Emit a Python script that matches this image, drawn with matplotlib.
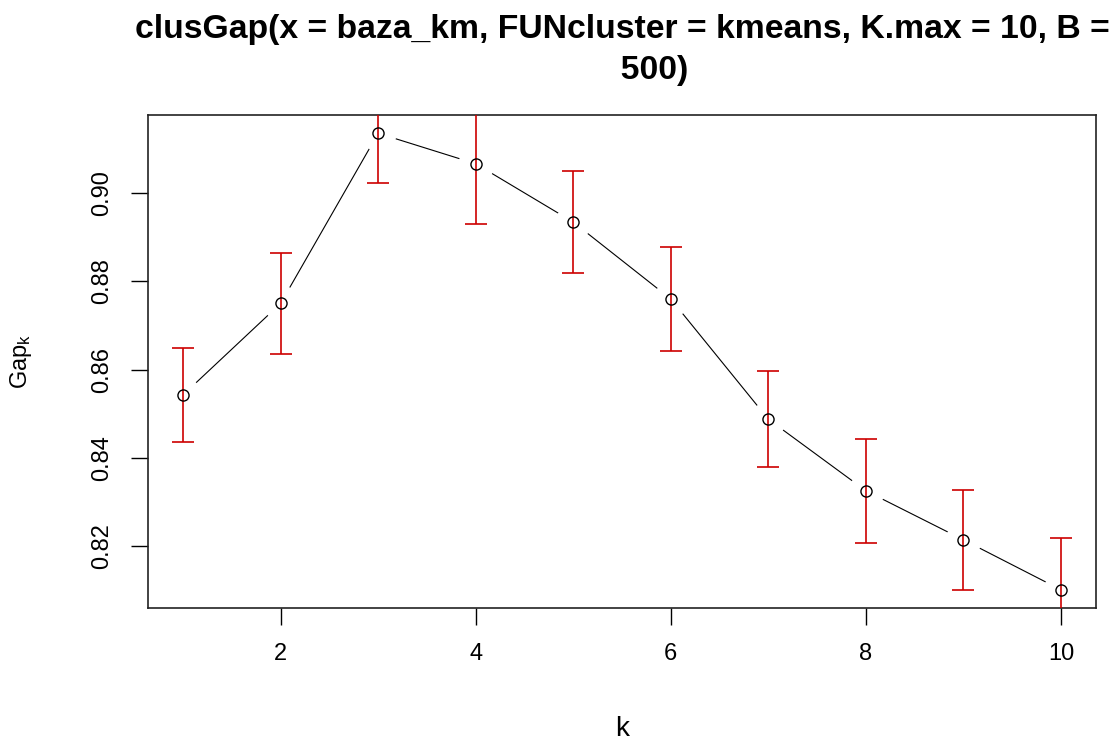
import numpy as np
import matplotlib
matplotlib.use("Agg")
import matplotlib.pyplot as plt

# --- data (clusGap result) ---
k = [1, 2, 3, 4, 5, 6, 7, 8, 9, 10]
gap = [0.8543, 0.8750, 0.9135, 0.9066, 0.8934, 0.8760, 0.8488, 0.8326, 0.8215, 0.8102]
se_sim = [0.0106, 0.0114, 0.0113, 0.0137, 0.0116, 0.0118, 0.0109, 0.0118, 0.0113, 0.0117]
x_ticks = [2, 4, 6, 8, 10]
y_ticks = [0.82, 0.84, 0.86, 0.88, 0.90]
title_txt = "clusGap(x = baza_km, FUNcluster = kmeans, K.max = 10, B =\n       500)"

plt.rcParams['font.family'] = ['Liberation Sans', 'DejaVu Sans']
plt.rcParams['mathtext.fontset'] = 'custom'
plt.rcParams['mathtext.rm'] = 'Liberation Sans'
plt.rcParams['mathtext.it'] = 'Liberation Sans'

fig = plt.figure(figsize=(11.18, 7.42), dpi=100)
ax = fig.add_axes([148 / 1118, 1 - 608 / 742, (1096 - 148) / 1118, (608 - 115) / 742])

# R-like axis ranges (4% extension on data range)
xr = max(k) - min(k)
yr = max(gap) - min(gap)
ax.set_xlim(min(k) - 0.04 * xr, max(k) + 0.04 * xr)
ax.set_ylim(min(gap) - 0.04 * yr, max(gap) + 0.04 * yr)

# type = "b": line with gaps around the points
ax.plot(k, gap, color='black', lw=0.8, zorder=1)
ax.plot(k, gap, ls='none', marker='o', ms=26, mfc='white', mec='none', zorder=1.5)
ax.errorbar(k, gap, yerr=se_sim, fmt='none', ecolor='#CD0000', elinewidth=1.2,
            capsize=8, capthick=1.2, zorder=3)
ax.plot(k, gap, ls='none', marker='o', ms=8, mfc='none', mec='black', mew=1, zorder=4)

ax.set_xticks(x_ticks)
ax.set_yticks(y_ticks)
ax.set_xticklabels([str(v) for v in x_ticks], fontsize=17)
ax.set_yticklabels(["%.2f" % v for v in y_ticks], fontsize=17, rotation=90, va='center')
ax.tick_params(length=12, width=1, pad=13, color='black')

for sp in ax.spines.values():
    sp.set_linewidth(1.2)
    sp.set_color('#222222')

ax.set_xlabel('k', fontsize=20)
ax.xaxis.set_label_coords(0.5, -0.22)
ax.set_ylabel(r'$\mathrm{Gap}_{\mathrm{k}}$', fontsize=17)
ax.yaxis.set_label_coords(-0.120, 0.5)

# two-line title, second line anchored on its baseline
fig.text(622 / 1118, 1 - 79 / 742, title_txt, ha='center', va='baseline',
         multialignment='center', fontsize=24.3, fontweight='bold', linespacing=1.40)

fig.savefig('out.png', dpi=100)
